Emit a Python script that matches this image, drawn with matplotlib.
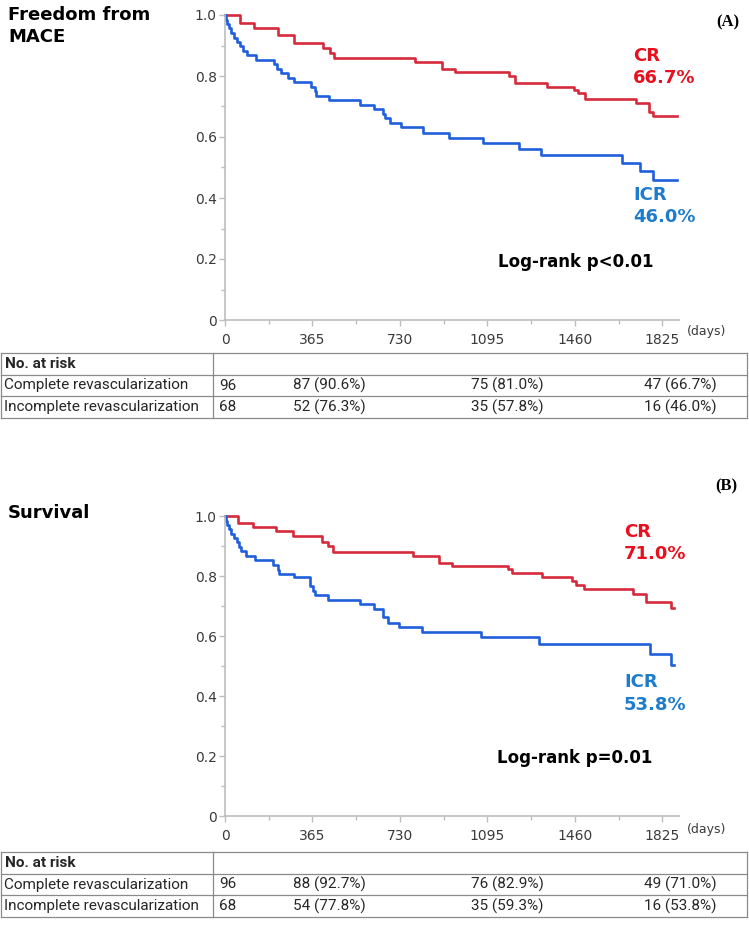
import matplotlib
matplotlib.use("Agg")
import matplotlib.pyplot as plt
from matplotlib.ticker import MultipleLocator

W, H = 749, 925

# ---- data ----
tick_days = [0, 365, 730, 1095, 1460, 1825]
y_ticks = [0, 0.2, 0.4, 0.6, 0.8, 1.0]
y_tick_labels = ["0", "0.2", "0.4", "0.6", "0.8", "1.0"]

# (A) freedom from MACE
mace_cr_days = [0, 63, 120, 222, 290, 410, 440, 457, 794, 904, 960, 1187, 1209,
                1346, 1456, 1473, 1502, 1715, 1771, 1788, 1886]
mace_cr_surv = [1.0, 0.973, 0.956, 0.934, 0.909, 0.891, 0.876, 0.858, 0.847, 0.823,
                0.814, 0.801, 0.778, 0.763, 0.754, 0.743, 0.725, 0.710, 0.683, 0.670, 0.670]
mace_icr_days = [0, 4, 10, 16, 25, 37, 51, 63, 75, 92, 128, 203, 218, 235, 262, 286,
                 359, 374, 381, 435, 564, 623, 660, 667, 689, 733, 825, 935, 1077,
                 1227, 1319, 1656, 1734, 1788, 1886]
mace_icr_surv = [1.0, 0.985, 0.971, 0.956, 0.941, 0.926, 0.912, 0.897, 0.882, 0.868,
                 0.853, 0.838, 0.824, 0.809, 0.794, 0.779, 0.765, 0.750, 0.735, 0.721,
                 0.706, 0.691, 0.676, 0.662, 0.647, 0.632, 0.612, 0.597, 0.579, 0.560,
                 0.541, 0.514, 0.487, 0.460, 0.460]

# (B) survival
surv_cr_days = [0, 56, 117, 213, 283, 403, 432, 450, 784, 894, 948, 1180, 1199,
                1324, 1447, 1466, 1500, 1705, 1759, 1862, 1873]
surv_cr_surv = [1.0, 0.976, 0.963, 0.950, 0.932, 0.912, 0.899, 0.879, 0.868, 0.844,
                0.833, 0.822, 0.809, 0.796, 0.783, 0.769, 0.756, 0.739, 0.714, 0.692, 0.692]
surv_icr_days = [0, 4, 10, 17, 26, 38, 51, 60, 66, 88, 125, 200, 220, 227, 286, 356,
                 366, 374, 429, 564, 623, 660, 682, 726, 821, 1070, 1312, 1774, 1862, 1873]
surv_icr_surv = [1.0, 0.985, 0.971, 0.956, 0.941, 0.926, 0.912, 0.897, 0.882, 0.867,
                 0.853, 0.837, 0.820, 0.807, 0.796, 0.767, 0.750, 0.736, 0.721, 0.706,
                 0.690, 0.662, 0.644, 0.629, 0.613, 0.596, 0.574, 0.541, 0.505, 0.505]

risk_groups = ["Complete revascularization", "Incomplete revascularization"]
mace_risk = [["96", "87 (90.6%)", "75 (81.0%)", "47 (66.7%)"],
             ["68", "52 (76.3%)", "35 (57.8%)", "16 (46.0%)"]]
surv_risk = [["96", "88 (92.7%)", "76 (82.9%)", "49 (71.0%)"],
             ["68", "54 (77.8%)", "35 (59.3%)", "16 (53.8%)"]]

RED_LINE = "#d62a3c"
BLUE_LINE = "#1f5fdc"
RED_TXT = "#e8101e"
BLUE_TXT = "#1f7ccc"
AX_COL = "#bdbdbd"

fig = plt.figure(figsize=(W / 100, H / 100), dpi=100)


def px(x, y):
    return x / W, 1 - y / H


def draw_panel(top, bottom, cr_d, cr_s, icr_d, icr_s):
    ax = fig.add_axes([225 / W, 1 - bottom / H, 454 / W, (bottom - top) / H])
    ax.step(cr_d, cr_s, where="post", color=RED_LINE, lw=1.9, clip_on=False)
    ax.step(icr_d, icr_s, where="post", color=BLUE_LINE, lw=1.9, clip_on=False)
    ax.set_xlim(0, 1895)
    ax.set_ylim(0, 1.0)
    for s in ["top", "right"]:
        ax.spines[s].set_visible(False)
    for s in ["left", "bottom"]:
        ax.spines[s].set_color(AX_COL)
        ax.spines[s].set_linewidth(1.2)
    ax.set_xticks(tick_days)
    ax.set_yticks(y_ticks)
    ax.set_yticklabels(y_tick_labels)
    ax.xaxis.set_minor_locator(MultipleLocator(182.5))
    ax.yaxis.set_minor_locator(MultipleLocator(0.1))
    ax.tick_params(which="both", direction="out", color=AX_COL, width=1.0,
                   labelsize=10, labelcolor="#3a3a3a")
    ax.tick_params(axis="x", which="major", length=4, pad=5)
    ax.tick_params(axis="x", which="minor", length=3)
    ax.tick_params(axis="y", which="major", length=4, pad=2)
    ax.tick_params(axis="y", which="minor", length=3)
    return ax


def draw_table(top, rows, values):
    lines = [top, top + 22, top + 43, top + 65]
    for yl in lines:
        fig.add_artist(plt.Line2D([px(1, 0)[0], px(747, 0)[0]], [px(0, yl)[1]] * 2,
                                  color="#8a8a8a", lw=0.9))
    for xl in [1, 213, 747]:
        fig.add_artist(plt.Line2D([px(xl, 0)[0]] * 2, [px(0, top)[1], px(0, lines[-1])[1]],
                                  color="#8a8a8a", lw=0.9))
    tfont = dict(family=["Roboto", "DejaVu Sans"], fontsize=11, color="#262626",
                 va="center", ha="left")
    fig.text(*px(5, (lines[0] + lines[1]) / 2), "No. at risk", fontweight="bold", **tfont)
    col_x = [219, 293, 471, 644]
    for i, (name, vals) in enumerate(zip(rows, values)):
        yc = (lines[i + 1] + lines[i + 2]) / 2
        fig.text(*px(4, yc), name, **tfont)
        for xv, v in zip(col_x, vals):
            fig.text(*px(xv, yc), v, **tfont)


bold = dict(family="DejaVu Sans", fontweight="bold")

# ---- panel A ----
draw_panel(15, 320, mace_cr_days, mace_cr_surv, mace_icr_days, mace_icr_surv)
fig.text(*px(8, 6), "Freedom from\nMACE", fontsize=13, va="top", ha="left", linespacing=1.25, **bold)
fig.text(*px(739, 22), "(A)", fontsize=12, fontweight="bold", family="Liberation Serif",
         ha="right", va="center")
fig.text(*px(633, 56), "CR", color=RED_TXT, fontsize=13, va="center", **bold)
fig.text(*px(633, 78), "66.7%", color=RED_TXT, fontsize=13, va="center", **bold)
fig.text(*px(633, 195), "ICR", color=BLUE_TXT, fontsize=13, va="center", **bold)
fig.text(*px(633, 217), "46.0%", color=BLUE_TXT, fontsize=13, va="center", **bold)
fig.text(*px(498, 262), "Log-rank p<0.01", color="black", fontsize=12, va="center", **bold)
fig.text(*px(687, 332), "(days)", fontsize=9, color="#3a3a3a", va="center")
draw_table(353, risk_groups, mace_risk)

# ---- panel B ----
draw_panel(516, 816, surv_cr_days, surv_cr_surv, surv_icr_days, surv_icr_surv)
fig.text(*px(8, 513), "Survival", fontsize=13, va="center", ha="left", **bold)
fig.text(*px(737, 486), "(B)", fontsize=12, fontweight="bold", family="Liberation Serif",
         ha="right", va="center")
fig.text(*px(624, 532), "CR", color=RED_TXT, fontsize=13, va="center", **bold)
fig.text(*px(624, 554), "71.0%", color=RED_TXT, fontsize=13, va="center", **bold)
fig.text(*px(624, 682), "ICR", color=BLUE_TXT, fontsize=13, va="center", **bold)
fig.text(*px(624, 705), "53.8%", color=BLUE_TXT, fontsize=13, va="center", **bold)
fig.text(*px(497, 758), "Log-rank p=0.01", color="black", fontsize=12, va="center", **bold)
fig.text(*px(687, 830), "(days)", fontsize=9, color="#3a3a3a", va="center")
draw_table(852, risk_groups, surv_risk)

fig.savefig("out.png", dpi=100)
